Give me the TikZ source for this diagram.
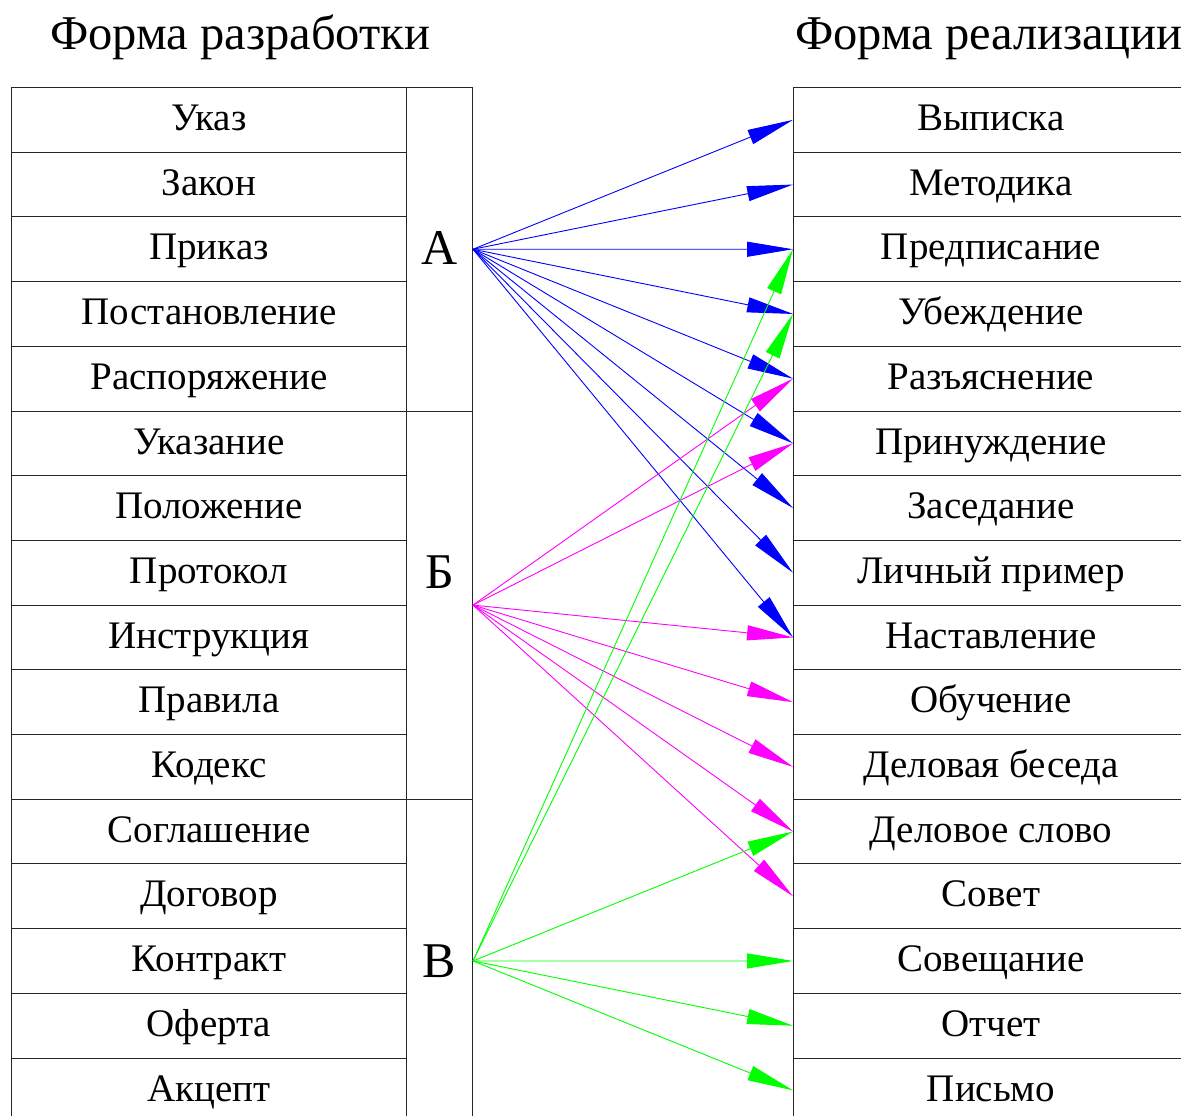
\documentclass[tikz,border=0pt]{standalone}
\usepackage{fontspec}
\setmainfont{Liberation Serif}
\usetikzlibrary{arrows.meta}
\definecolor{cblue}{RGB}{0,0,255}
\definecolor{cmag}{RGB}{255,0,255}
\definecolor{cgreen}{RGB}{0,255,0}
\begin{document}
\begin{tikzpicture}[x=1pt,y=-1pt,
  cell/.style={draw=black!85, line width=1pt, minimum width=395pt, minimum height=64.7pt,
    inner sep=0pt, font=\fontsize{39}{39}\selectfont, text height=27pt, text depth=5.6pt, anchor=north west},
  grp/.style={draw=black!85, line width=1pt, minimum width=66pt, inner sep=0pt, anchor=north west},
  glabel/.style={font=\fontsize{50}{50}\selectfont, anchor=base, inner sep=0pt},
  ttl/.style={font=\fontsize{48.5}{48.5}\selectfont, anchor=base west, inner sep=0pt},
  ar/.style={line width=0.9pt, -{Triangle[length=46pt,width=15pt]}}]
\clip (0,0) rectangle (1181,1116);
\fill[white] (0,0) rectangle (1181,1116);
% titles
\node[ttl] (t1) at (50,50) {Форма разработки};
\node[ttl] (t2) at (795,50) {Форма реализации};
% left column
\foreach \t [count=\i] in {Указ,Закон,Приказ,Постановление,Распоряжение,Указание,Положение,Протокол,Инструкция,Правила,Кодекс,Соглашение,Договор,Контракт,Оферта,Акцепт}
  \node[cell] (L\i) at (11,{87+64.7*(\i-1)}) {\t};
% group column
\node[grp, minimum height=323.5pt] (GA) at (406,87) {};
\node[grp, minimum height=388.2pt] (GB) at (406,410.5) {};
\node[grp, minimum height=323.5pt] (GV) at (406,798.7) {};
\node[glabel] (lA) at (439.5,264) {А};
\node[glabel] (lB) at (439.5,588) {Б};
\node[glabel] (lV) at (439.5,977) {В};
% right column
\foreach \t [count=\i] in {Выписка,Методика,Предписание,Убеждение,Разъяснение,Принуждение,Заседание,Личный пример,Наставление,Обучение,Деловая беседа,Деловое слово,Совет,Совещание,Отчет,Письмо}
  \node[cell] (R\i) at (793,{87+64.7*(\i-1)}) {\t};
% arrows
\foreach \j in {1,...,9}
  \draw[ar, cblue] (GA.east) -- (R\j.west);
\foreach \j in {5,6,9,10,11,12,13}
  \draw[ar, cmag] (GB.east) -- (R\j.west);
\foreach \j in {3,4,12,14,15,16}
  \draw[ar, cgreen] (GV.east) -- (R\j.west);
\end{tikzpicture}
\end{document}
